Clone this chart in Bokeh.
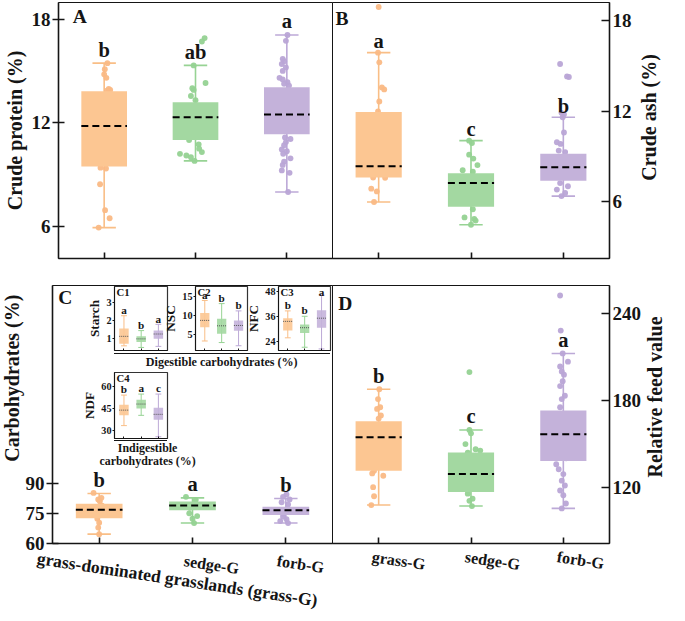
import math
from bokeh.plotting import figure
from bokeh.models import Range1d, FixedTicker, Label, Div
from bokeh.layouts import column
from bokeh.embed import file_html
from bokeh.resources import INLINE
from bokeh.core.properties import value

# ------------------------------------------------------------------ data
groups = ["grass-G", "sedge-G", "forb-G"]
long_group = "grass-dominated grasslands (grass-G)"
xpos = [1, 2, 3]

# A  Crude protein (%)  -- whisker low, Q1, median, Q3, whisker high
protein_ticks = [6, 12, 18]
protein_low = [5.93, 9.79, 7.99]
protein_q1 = [9.47, 11.00, 11.33]
protein_med = [11.81, 12.32, 12.47]
protein_q3 = [13.82, 13.18, 14.06]
protein_high = [15.45, 15.32, 17.08]
protein_letters = ["b", "ab", "a"]
protein_grass = [15.45, 15.1, 14.8, 14.6, 13.95, 13.9, 13.85, 12.9, 12.2, 11.6, 10.8, 10.1, 9.4, 9.35, 8.44, 6.94, 6.47, 5.93]
protein_grass_jit = [0.035, 0.007, 0.0, 0.024, 0.05, 0.066, 0.03, 0.02, -0.03, 0.01, -0.02, 0.03, -0.04, 0.02, -0.045, 0.01, 0.06, -0.06]
protein_sedge = [16.9, 16.7, 15.32, 14.3, 14.0, 13.9, 13.55, 13.3, 12.8, 12.0, 11.5, 11.0, 10.75, 10.5, 10.3, 10.2, 10.1, 10.0, 9.79]
protein_sedge_jit = [0.10, 0.07, -0.02, 0.11, -0.035, -0.02, -0.05, 0.0, 0.03, -0.04, 0.05, -0.07, 0.035, 0.04, 0.07, -0.17, -0.10, -0.05, -0.01]
protein_forb = [17.08, 16.74, 15.7, 15.56, 15.4, 15.2, 15.0, 14.6, 14.5, 14.35, 14.25, 14.15, 13.5, 13.0, 12.5, 12.0, 11.6,
                11.15, 11.06, 10.88, 10.7, 10.45, 10.35, 10.2, 9.94, 9.75, 9.56, 9.24, 9.1, 7.99]
protein_forb_jit = [0.007, -0.01, -0.045, -0.03, -0.055, -0.01, -0.045, -0.08, -0.045, 0.007, -0.03, 0.024, 0.02, -0.03, 0.04, -0.02, 0.03,
                    -0.02, 0.04, -0.01, -0.03, -0.055, 0.0, -0.04, 0.04, -0.03, -0.045, -0.055, 0.03, 0.014]

# B  Crude ash (%)
ash_ticks = [6, 12, 18]
ash_low = [6.00, 4.49, 6.39]
ash_q1 = [7.62, 5.68, 7.40]
ash_med = [8.37, 7.25, 8.29]
ash_q3 = [11.96, 7.90, 9.19]
ash_high = [15.88, 10.06, 11.61]
ash_letters = ["a", "c", "b"]
ash_grass = [18.9, 15.88, 15.24, 13.58, 13.45, 12.65, 12.0, 10.5, 9.2, 8.0, 7.62, 7.6, 6.88, 6.7, 6.0]
ash_grass_jit = [0.0, -0.007, 0.007, 0.035, 0.06, 0.007, -0.007, 0.02, -0.03, 0.03, -0.06, 0.07, -0.08, -0.02, -0.05]
ash_sedge = [10.06, 9.9, 9.13, 8.87, 8.44, 8.1, 8.0, 7.5, 6.8, 6.2, 5.52, 4.98, 4.88, 4.77, 4.49]
ash_sedge_jit = [-0.02, 0.01, -0.02, 0.025, 0.07, -0.09, 0.02, 0.03, -0.03, 0.04, 0.02, -0.07, 0.035, 0.05, 0.0]
ash_forb = [15.13, 14.31, 14.27, 11.9, 11.8, 11.61, 10.6, 9.95, 9.84, 9.4, 9.3, 8.8, 8.3, 7.8, 7.25, 7.04, 6.82, 6.6, 6.39]
ash_forb_jit = [-0.035, 0.04, 0.06, -0.02, 0.007, -0.007, 0.007, -0.07, -0.03, -0.05, 0.02, 0.03, -0.04, 0.05, -0.035, 0.05, -0.07, 0.02, -0.02]

# C  Carbohydrates (%)
carb_ticks = [60, 75, 90]
carb_low = [64.7, 70.3, 70.3]
carb_q1 = [72.7, 76.7, 74.3]
carb_med = [77.0, 79.2, 76.8]
carb_q3 = [80.0, 81.2, 78.5]
carb_high = [85.2, 83.0, 82.7]
carb_letters = ["b", "a", "b"]
carb_grass = [85.5, 83.0, 82.2, 81.3, 79.0, 77.0, 75.0, 72.5, 70.5, 68.0, 64.7]
carb_grass_jit = [-0.06, 0.024, -0.01, 0.007, 0.03, -0.02, 0.04, -0.02, 0.0, -0.01, 0.0]
carb_sedge = [83.5, 82.0, 80.0, 78.0, 75.2, 73.8, 72.5, 70.3]
carb_sedge_jit = [-0.07, 0.035, 0.02, -0.03, -0.035, 0.05, 0.0, 0.017]
carb_forb = [84.7, 83.5, 82.2, 80.8, 79.7, 77.0, 75.0, 73.5, 72.2, 71.3, 70.3]
carb_forb_jit = [0.007, -0.03, 0.04, -0.045, 0.024, 0.0, -0.03, -0.03, 0.007, -0.06, 0.024]

# D  Relative feed value
rfv_ticks = [120, 180, 240]
rfv_low = [107.6, 106.9, 105.3]
rfv_q1 = [131.3, 116.6, 138.0]
rfv_med = [154.5, 129.0, 156.5]
rfv_q3 = [165.6, 143.9, 173.0]
rfv_high = [187.7, 159.5, 212.5]
rfv_letters = ["b", "c", "a"]
rfv_grass = [187.7, 180.9, 175.3, 174.1, 169.6, 167.4, 160.0, 150.0, 140.0, 131.3, 129.5, 127.9, 120.0, 113.7, 107.6]
rfv_grass_jit = [0.007, -0.007, 0.017, -0.017, 0.024, 0.0, 0.03, -0.03, 0.02, -0.05, -0.07, 0.05, -0.06, -0.05, -0.08]
rfv_sedge = [199.6, 159.5, 157.2, 149.8, 146.2, 145.3, 143.9, 135.0, 125.0, 115.5, 112.0, 110.5, 106.9]
rfv_sedge_jit = [-0.017, -0.017, 0.0, -0.06, 0.05, 0.10, -0.035, 0.02, -0.03, -0.035, 0.017, -0.017, 0.01]
rfv_forb = [252.6, 228.3, 212.5, 206.8, 203.5, 200.0, 197.8, 193.3, 189.9, 183.2, 180.9, 175.3, 160.0, 150.0, 140.0,
            135.8, 132.4, 129.0, 124.5, 121.1, 117.7, 114.4, 108.7, 105.3]
rfv_forb_jit = [-0.035, -0.028, -0.007, 0.05, -0.035, -0.017, 0.007, -0.007, -0.035, 0.017, -0.017, -0.035, 0.02, -0.02, 0.03,
                -0.077, -0.05, 0.0, -0.017, 0.017, -0.035, 0.0, 0.028, -0.017]

# C1-C4 insets
starch_ticks = [1, 2, 3]
starch_low = [0.61, 0.52, 0.58]
starch_q1 = [0.73, 0.82, 1.00]
starch_med = [1.14, 1.00, 1.27]
starch_q3 = [1.58, 1.14, 1.46]
starch_high = [2.29, 1.46, 1.81]
starch_letters = ["a", "b", "a"]

nsc_ticks = [5, 10, 15]
nsc_low = [3.33, 2.92, 2.08]
nsc_q1 = [6.92, 5.25, 6.00]
nsc_med = [8.75, 7.33, 7.42]
nsc_q3 = [10.67, 9.17, 8.75]
nsc_high = [14.0, 13.17, 11.25]
nsc_letters = ["a", "b", "b"]

nfc_ticks = [24, 36, 48]
nfc_low = [25.96, 21.5, 20.7]
nfc_q1 = [29.4, 28.2, 30.75]
nfc_med = [33.75, 30.75, 35.25]
nfc_q3 = [35.25, 32.25, 39.0]
nfc_high = [38.7, 36.15, 46.2]
nfc_letters = ["b", "b", "a"]

ndf_ticks = [30, 45, 60]
ndf_low = [33.3, 40.4, 25.6]
ndf_q1 = [40.4, 45.1, 37.3]
ndf_med = [44.0, 48.2, 41.1]
ndf_q3 = [47.8, 51.1, 45.6]
ndf_high = [54.4, 55.1, 55.1]
ndf_letters = ["b", "a", "c"]

# ------------------------------------------------------------------ style
S = 0.975
OY = 2
FONT = "Liberation Serif"
INK = "#151515"
FILL = ["#FCC692", "#A3D8A1", "#C4B2DA"]
DOT = ["#FAB985", "#95D292", "#B9A5D6"]
WHISK = ["#F9BE86", "#97D394", "#BCA9D7"]
TXT = f"font-family:'{FONT}',serif;font-weight:bold;color:{INK};white-space:nowrap;"

children = []


def px(v):
    return f"{v * S:.1f}px"


def make_fig(frame, borders, xr, yr, y_side="left"):
    L, T, R, B = frame
    fl, fr = round(L * S), round(R * S)
    ft, fb = round(T * S + OY), round(B * S + OY)
    bl, bt, br, bb = (round(v * S) for v in borders)
    p = figure(width=bl + fr - fl + br, height=bt + fb - ft + bb,
               x_range=Range1d(*xr), y_range=Range1d(*yr), y_axis_location=y_side,
               output_backend="svg", toolbar_location=None,
               min_border_left=bl, min_border_right=br, min_border_top=bt, min_border_bottom=bb)
    try:
        p.frame_align = False
    except Exception:
        pass
    p.styles = {"position": "absolute", "left": f"{fl - bl}px", "top": f"{ft - bt}px"}
    p.border_fill_color = None
    p.background_fill_color = "white"
    p.outline_line_color = INK
    p.grid.visible = False
    children.append(p)
    return p, dict(L=L, T=T, R=R, B=B, xr=xr, yr=yr)


def fxy(info, dx, dy):
    x0, x1 = info["xr"]
    y0, y1 = info["yr"]
    return (x0 + dx / (info["R"] - info["L"]) * (x1 - x0),
            y1 - dy / (info["B"] - info["T"]) * (y1 - y0))


def x_to_ref(info, x):
    x0, x1 = info["xr"]
    return info["L"] + (x - x0) / (x1 - x0) * (info["R"] - info["L"])


def ppu(info):
    y0, y1 = info["yr"]
    return (info["B"] - info["T"]) / (y1 - y0)


def style_axis(ax, ticks, label, tick_fs, label_fs, t_out, t_in, std, lstd, lw):
    ax.ticker = FixedTicker(ticks=ticks, minor_ticks=[])
    ax.axis_label = label
    ax.axis_label_text_font = FONT
    ax.axis_label_text_font_style = "bold"
    ax.axis_label_text_font_size = px(label_fs)
    ax.axis_label_text_color = INK
    ax.major_label_text_font = FONT
    ax.major_label_text_font_style = "bold"
    ax.major_label_text_font_size = px(tick_fs)
    ax.major_label_text_color = INK
    ax.major_tick_out = t_out
    ax.major_tick_in = t_in
    ax.minor_tick_out = 0
    ax.minor_tick_in = 0
    ax.major_label_standoff = std
    ax.axis_label_standoff = lstd
    ax.axis_line_color = INK
    ax.major_tick_line_color = INK
    ax.axis_line_width = lw
    ax.major_tick_line_width = lw


def blank_x(ax, tick_in, lw):
    ax.ticker = FixedTicker(ticks=xpos, minor_ticks=[])
    ax.major_label_overrides = {x: "" for x in xpos}
    ax.major_label_text_font_size = "0px"
    ax.major_label_standoff = 0
    ax.major_tick_in = tick_in
    ax.major_tick_out = 0
    ax.minor_tick_in = 0
    ax.minor_tick_out = 0
    ax.axis_line_color = INK
    ax.major_tick_line_color = INK
    ax.axis_line_width = lw
    ax.major_tick_line_width = lw


def draw_boxes(p, info, low, q1, med, q3, high, letters, pts=None, jits=None,
               box_w=0.5, cap=24, lw=1.6, pt=6, letter_fs=21, letter_off=14,
               med_dash="7 4", med_color="black", med_w=2.0, alpha=1.0, cap_top=None):
    p.segment(x0=xpos, y0=low, x1=xpos, y1=high, line_color=WHISK, line_width=lw)
    p.scatter(x=xpos, y=high, marker="dash", size=cap * S, line_color=WHISK, line_width=lw)
    p.scatter(x=xpos, y=low, marker="dash", size=cap * S, line_color=WHISK, line_width=lw)
    if pts is not None:
        for i in range(3):
            p.scatter(x=[xpos[i] + j for j in jits[i]], y=pts[i], size=pt * S,
                      fill_color=DOT[i], line_color=None, fill_alpha=0.95)
    p.vbar(x=xpos, width=box_w, bottom=q1, top=q3, fill_color=FILL, fill_alpha=alpha, line_color=None)
    p.segment(x0=[x - box_w / 2 for x in xpos], y0=med, x1=[x + box_w / 2 for x in xpos], y1=med,
              line_color=med_color, line_width=med_w, line_dash=med_dash)
    k = ppu(info)
    ly = [h + letter_off / k for h in high]
    if cap_top is not None:
        ly = [min(v, info["yr"][1] - cap_top / k) for v in ly]
    p.text(x=xpos, y=ly, text=letters, text_font=value(FONT), text_font_style="bold",
           text_font_size=px(letter_fs), text_align="center", text_baseline="middle", text_color=INK)


def panel_label(p, info, dx, dy, text, fs):
    x, y = fxy(info, dx, dy)
    p.add_layout(Label(x=x, y=y, text=text, text_font=FONT, text_font_style="bold",
                       text_font_size=px(fs), text_align="left", text_baseline="middle", text_color=INK))


def add_div(html, L, T, W, H):
    d = Div(text=html, width=round(W * S), height=round(H * S), margin=0)
    d.styles = {"position": "absolute", "left": f"{round(L * S)}px", "top": f"{round(T * S + OY)}px"}
    children.append(d)


def vertical_title(text, cx, cy, length, fs):
    thick = 26
    w, h = thick * S, length * S
    html = (f"<div style=\"writing-mode:vertical-rl;transform:rotate(180deg);width:{w:.1f}px;height:{h:.1f}px;"
            f"line-height:{w:.1f}px;text-align:center;{TXT}font-size:{fs * S:.1f}px\">{text}</div>")
    add_div(html, cx - thick / 2, cy - length / 2, thick, length)


def slanted(text, lx, cy, fs, width):
    # category name below a panel, slightly rotated clockwise, left end at (lx, cy)
    lh = fs * 1.1
    html = (f"<div style=\"transform:rotate(8.6deg);transform-origin:0 50%;width:{width * S:.1f}px;"
            f"{TXT}font-size:{fs * S:.1f}px;line-height:{lh * S:.1f}px\">{text}</div>")
    add_div(html, lx, cy - lh / 2, width, lh + 30)


XR = (0.5, 3.5)
LW = 1.6

# ------------------------------------------------------------------ A
pA, iA = make_fig((53.5, 0, 340, 263), (53, 2, 4, 24), XR, (4.14, 18.96), "left")
style_axis(pA.yaxis[0], protein_ticks, "Crude protein (%)", 19.5, 20.5, 6, 6, 2, 3, LW)
blank_x(pA.xaxis[0], 6, LW)
draw_boxes(pA, iA, protein_low, protein_q1, protein_med, protein_q3, protein_high, protein_letters,
           [protein_grass, protein_sedge, protein_forb], [protein_grass_jit, protein_sedge_jit, protein_forb_jit])
panel_label(pA, iA, 15, 14, "A", 20)

# ------------------------------------------------------------------ B
pB, iB = make_fig((340, 0, 625, 263), (4, 2, 62, 24), XR, (2.26, 19.2), "right")
style_axis(pB.yaxis[0], ash_ticks, None, 19.5, 20.5, 0, 8, 3, 4, LW)
blank_x(pB.xaxis[0], 6, LW)
draw_boxes(pB, iB, ash_low, ash_q1, ash_med, ash_q3, ash_high, ash_letters,
           [ash_grass, ash_sedge, ash_forb], [ash_grass_jit, ash_sedge_jit, ash_forb_jit], letter_off=12)
panel_label(pB, iB, 3, 16, "B", 20)

# ------------------------------------------------------------------ C
pC, iC = make_fig((53.5, 290, 340, 555), (53, 6, 4, 62), XR, (60, 190), "left")
style_axis(pC.yaxis[0], carb_ticks, None, 19.5, 20.5, 6, 6, 2, 3, LW)
blank_x(pC.xaxis[0], 6, LW)
draw_boxes(pC, iC, carb_low, carb_q1, carb_med, carb_q3, carb_high, carb_letters,
           [carb_grass, carb_sedge, carb_forb], [carb_grass_jit, carb_sedge_jit, carb_forb_jit])
panel_label(pC, iC, 6, 12, "C", 20)

# ------------------------------------------------------------------ D
pD, iD = make_fig((340, 290, 625, 555), (4, 6, 62, 62), XR, (81, 259.5), "right")
style_axis(pD.yaxis[0], rfv_ticks, None, 19.5, 20.5, 0, 8, 3, 4, LW)
blank_x(pD.xaxis[0], 6, LW)
draw_boxes(pD, iD, rfv_low, rfv_q1, rfv_med, rfv_q3, rfv_high, rfv_letters,
           [rfv_grass, rfv_sedge, rfv_forb], [rfv_grass_jit, rfv_sedge_jit, rfv_forb_jit])
panel_label(pD, iD, 6, 18, "D", 20)

# ------------------------------------------------------------------ insets
insets = [
    ((117, 291, 171, 357), (44, 2, 2, 4), (0.35, 3.92), starch_ticks, "Starch",
     starch_low, starch_q1, starch_med, starch_q3, starch_high, starch_letters, "C1"),
    ((200, 291, 253.5, 357), (44, 2, 2, 4), (0.83, 17.67), nsc_ticks, "NSC",
     nsc_low, nsc_q1, nsc_med, nsc_q3, nsc_high, nsc_letters, "C2"),
    ((285, 291, 338.5, 357), (44, 2, 2, 4), (19.96, 50.25), nfc_ticks, "NFC",
     nfc_low, nfc_q1, nfc_med, nfc_q3, nfc_high, nfc_letters, "C3"),
    ((117, 379, 171, 447), (44, 2, 2, 4), (24.4, 70.0), ndf_ticks, "NDF",
     ndf_low, ndf_q1, ndf_med, ndf_q3, ndf_high, ndf_letters, "C4"),
]
for frame, borders, yr, ticks, lab, lo, a1, md, a3, hi, lets, tag in insets:
    pi, ii = make_fig(frame, borders, (0.45, 3.53), yr, "left")
    pi.outline_line_color = "#333333"
    pi.outline_line_width = 1.2
    style_axis(pi.yaxis[0], ticks, lab, 10.5, 13.5, 2, 0, 1, 1, 1.0)
    blank_x(pi.xaxis[0], 2, 1.0)
    draw_boxes(pi, ii, lo, a1, md, a3, hi, lets, box_w=0.55, cap=6, lw=1.0, letter_fs=11.5,
               letter_off=6, med_dash="1 1", med_color="#555555", med_w=1.0, alpha=0.9, cap_top=6)
    panel_label(pi, ii, 2, 6, tag, 11)

# ------------------------------------------------------------------ texts outside the frames
vertical_title("Crude ash (%)", 666, 119, 250, 20.5)
vertical_title("Relative feed value", 672, 405, 260, 20.5)
vertical_title("Carbohydrates (%)", 13, 385, 250, 20.5)

# category names under C and D
slanted(long_group, 38, 571, 18, 330)
for i in (1, 2):
    slanted(groups[i], x_to_ref(iC, xpos[i]) - 8, iC["B"] + 18, 16.5, 80)
for i in (0, 1, 2):
    slanted(groups[i], x_to_ref(iD, xpos[i]) - 6, iD["B"] + 14, 16.5, 80)

add_div(f"<div style=\"width:{221 * S:.1f}px;border-top:1.4px solid {INK};\"></div>"
        f"<div style=\"width:{205 * S:.1f}px;padding-left:{16 * S:.1f}px;text-align:center;{TXT}"
        f"font-size:{12.4 * S:.1f}px;line-height:1.15;padding-top:2px\">Digestible carbohydrates (%)</div>",
        117, 359.5, 221, 20)
add_div(f"<div style=\"margin-left:{22 * S:.1f}px;width:{54 * S:.1f}px;border-top:1.4px solid {INK}\"></div>"
        f"<div style=\"width:{112 * S:.1f}px;text-align:center;{TXT}font-size:{12.2 * S:.1f}px;"
        f"line-height:1.05;padding-top:1px\">Indigestible<br>carbohydrates (%)</div>", 95, 449.5, 112, 32)

root = column(children=children, width=669, height=605)
root.styles = {"position": "relative"}

open("out.html", "w").write(file_html(root, INLINE, title="Forage quality"))
